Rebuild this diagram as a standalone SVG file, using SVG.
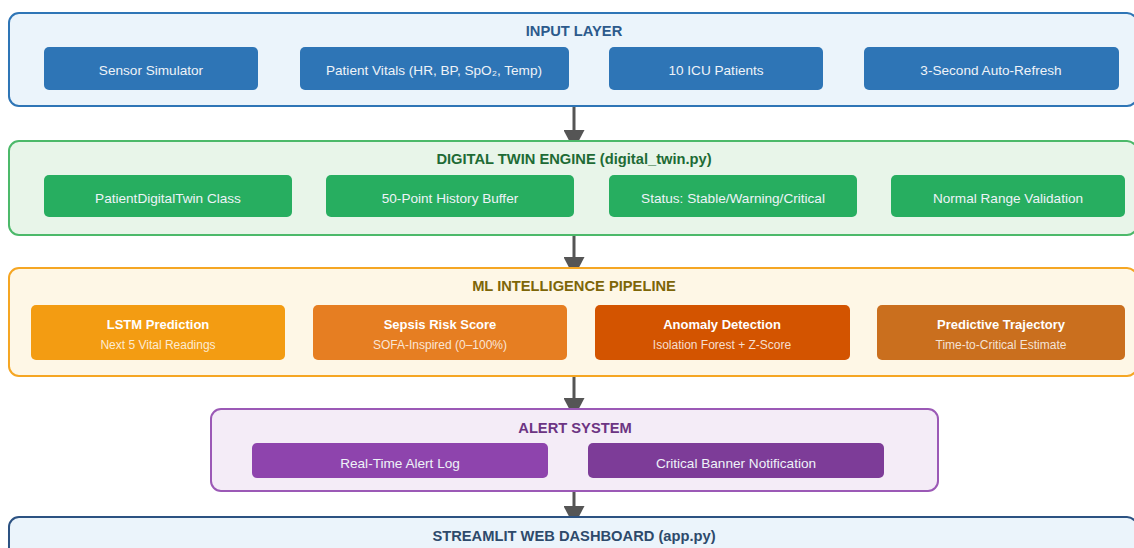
<svg xmlns="http://www.w3.org/2000/svg" width="1134" height="548" viewBox="0 0 1134 548">
<defs>
<style>
text{font-family:"Liberation Sans",Arial,sans-serif;text-anchor:middle}
.ttl{font-size:14.7px;font-weight:bold}
.ct{font-size:13.6px;fill:#EEF3F8}
.cb{font-size:13px;font-weight:bold;fill:#FFFFFF}
.cs{font-size:12px;fill:#FFFFFF;fill-opacity:0.82}
.lay{stroke-width:2}
.conn{stroke:#555555;stroke-width:3;fill:none}
</style>
<marker id="ah" viewBox="0 0 20 21" refX="20" refY="10.5" markerWidth="20" markerHeight="21" markerUnits="userSpaceOnUse" orient="auto">
<path d="M0,0 L20,10.5 L0,21 z" fill="#555555"/>
</marker>
</defs>
<rect width="1134" height="548" fill="#FFFFFF"/>

<g id="connectors">
<line class="conn" x1="574" y1="107" x2="574" y2="150" marker-end="url(#ah)"/>
<line class="conn" x1="574" y1="236" x2="574" y2="277" marker-end="url(#ah)"/>
<line class="conn" x1="574" y1="377" x2="574" y2="418" marker-end="url(#ah)"/>
<line class="conn" x1="574" y1="492" x2="574" y2="526" marker-end="url(#ah)"/>
</g>

<g id="input-layer">
<rect class="lay" x="9" y="13" width="1128" height="93" rx="10" fill="#EBF4FB" stroke="#2E75B6"/>
<text class="ttl" x="574" y="36" fill="#2C5A8C">INPUT LAYER</text>
</g>
<g id="sensor-simulator"><rect x="44" y="47" width="214" height="43" rx="5" fill="#2E75B6"/><text class="ct" x="151" y="75">Sensor Simulator</text></g>
<g id="patient-vitals"><rect x="300" y="47" width="269" height="43" rx="5" fill="#2E75B6"/><text class="ct" x="434" y="75">Patient Vitals (HR, BP, SpO₂, Temp)</text></g>
<g id="icu-patients"><rect x="609" y="47" width="214" height="43" rx="5" fill="#2E75B6"/><text class="ct" x="716" y="75">10 ICU Patients</text></g>
<g id="auto-refresh"><rect x="864" y="47" width="255" height="43" rx="5" fill="#2E75B6"/><text class="ct" x="991" y="75">3-Second Auto-Refresh</text></g>

<g id="digital-twin-engine">
<rect class="lay" x="9" y="141" width="1128" height="94" rx="10" fill="#E8F5E9" stroke="#4CB96A"/>
<text class="ttl" x="574" y="164" fill="#1E6B35">DIGITAL TWIN ENGINE (digital_twin.py)</text>
</g>
<g id="patient-digital-twin"><rect x="44" y="175" width="248" height="42" rx="5" fill="#27AE60"/><text class="ct" x="168" y="203">PatientDigitalTwin Class</text></g>
<g id="history-buffer"><rect x="326" y="175" width="248" height="42" rx="5" fill="#27AE60"/><text class="ct" x="450" y="203">50-Point History Buffer</text></g>
<g id="status"><rect x="609" y="175" width="248" height="42" rx="5" fill="#27AE60"/><text class="ct" x="733" y="203">Status: Stable/Warning/Critical</text></g>
<g id="range-validation"><rect x="891" y="175" width="234" height="42" rx="5" fill="#27AE60"/><text class="ct" x="1008" y="203">Normal Range Validation</text></g>

<g id="ml-pipeline">
<rect class="lay" x="9" y="268" width="1128" height="108" rx="10" fill="#FEF7E6" stroke="#F5A623"/>
<text class="ttl" x="574" y="291" fill="#7D6608">ML INTELLIGENCE PIPELINE</text>
</g>
<g id="lstm"><rect x="31" y="305" width="254" height="55" rx="5" fill="#F39C12"/><text class="cb" x="158" y="329">LSTM Prediction</text><text class="cs" x="158" y="349">Next 5 Vital Readings</text></g>
<g id="sepsis"><rect x="313" y="305" width="254" height="55" rx="5" fill="#E67E22"/><text class="cb" x="440" y="329">Sepsis Risk Score</text><text class="cs" x="440" y="349">SOFA-Inspired (0–100%)</text></g>
<g id="anomaly"><rect x="595" y="305" width="255" height="55" rx="5" fill="#D35400"/><text class="cb" x="722" y="329">Anomaly Detection</text><text class="cs" x="722" y="349">Isolation Forest + Z-Score</text></g>
<g id="trajectory"><rect x="877" y="305" width="248" height="55" rx="5" fill="#CA6F1E"/><text class="cb" x="1001" y="329">Predictive Trajectory</text><text class="cs" x="1001" y="349">Time-to-Critical Estimate</text></g>

<g id="alert-system">
<rect class="lay" x="211" y="409" width="727" height="82" rx="10" fill="#F4ECF7" stroke="#9B59B6"/>
<text class="ttl" x="575" y="433" fill="#6C3483">ALERT SYSTEM</text>
</g>
<g id="alert-log"><rect x="252" y="443" width="296" height="35" rx="5" fill="#8E44AD"/><text class="ct" x="400" y="468">Real-Time Alert Log</text></g>
<g id="critical-banner"><rect x="588" y="443" width="296" height="35" rx="5" fill="#7D3C98"/><text class="ct" x="736" y="468">Critical Banner Notification</text></g>

<g id="streamlit-dashboard">
<rect class="lay" x="9" y="517" width="1128" height="60" rx="10" fill="#EBF4FB" stroke="#2C5282"/>
<text class="ttl" x="574" y="541" fill="#2E4A6B">STREAMLIT WEB DASHBOARD (app.py)</text>
</g>
</svg>
